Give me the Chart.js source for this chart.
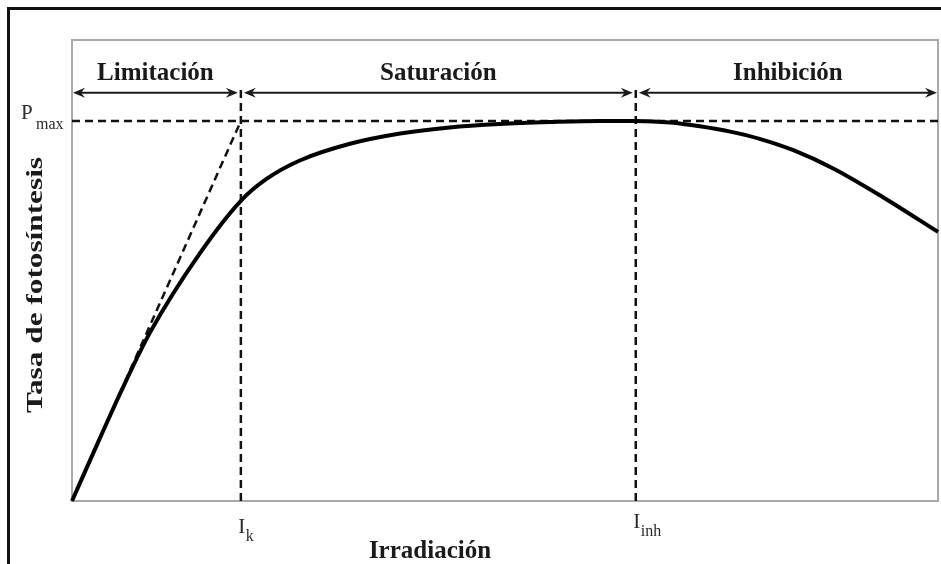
<!DOCTYPE html>
<html>
<head>
<meta charset="utf-8">
<script src="https://cdn.jsdelivr.net/npm/chart.js@4/dist/chart.umd.min.js"></script>
<style>
  html, body { margin: 0; padding: 0; background: #fff; }
  canvas { display: block; }
</style>
</head>
<body>
<canvas id="piCurve" width="941" height="564"></canvas>
<script>
// ── DATOS: curva P-I (fotosíntesis vs irradiación) ─────────
const irradiance     = [0, 3.2, 5.5, 9.0, 14.8, 19.5, 22.5, 26.3, 32.1, 37.9, 43.6, 49.4, 55.2, 61.0, 65.1, 69.1, 72.5, 76.0, 79.4, 83.3, 87.9, 93.6, 100];
const photosynthesis = [0, 16.4, 28.0, 44.3, 65.3, 79.0, 84.8, 89.6, 94.0, 96.7, 98.3, 99.2, 99.7, 100, 100, 99.6, 98.6, 97.2, 95.3, 92.3, 87.5, 80.0, 70.8];

const P_MAX = 100;      // tasa máxima
const I_K   = 19.5;     // irradiación de saturación
const I_INH = 65.1;     // inicio de la inhibición
const X_MAX = 100;
const Y_MAX = 121.3;

const regionNames = ['Limitación', 'Saturación', 'Inhibición'];
const regionEdges = [0, I_K, I_INH, X_MAX];
const ARROW_Y   = 107.4;  // altura de las flechas de zona
const LABEL_Y   = 110.9;  // línea base de los rótulos de zona
const MARKER_TOP = 108.7; // extremo superior de las verticales Ik / Iinh

const pts = (xs, ys) => xs.map((x, i) => ({ x, y: ys[i] }));

const dashed = { borderColor: '#111', borderWidth: 2.5, borderDash: [8, 5], pointRadius: 0, fill: false, tension: 0 };

// ── Plugin: marco, flechas y textos ─────────────────────────
const framePlugin = {
  id: 'frame',
  beforeDraw(chart) {
    const { ctx, chartArea: a } = chart;
    ctx.save();
    ctx.fillStyle = '#fff';
    ctx.fillRect(0, 0, chart.width, chart.height);
    // borde negro exterior (arriba e izquierda)
    ctx.fillStyle = '#111';
    ctx.fillRect(7, 7, chart.width - 7, 3);
    ctx.fillRect(7, 7, 3, chart.height - 7);
    // caja gris del área de trazado
    ctx.strokeStyle = '#a9a9a9';
    ctx.lineWidth = 2;
    ctx.strokeRect(a.left, a.top, a.right - a.left, a.bottom - a.top);
    ctx.restore();
  },
  afterDatasetsDraw(chart) {
    const { ctx, scales: { x, y } } = chart;
    ctx.save();

    // flechas dobles de cada zona
    const ay = y.getPixelForValue(ARROW_Y);
    ctx.strokeStyle = '#1a1a1a';
    ctx.fillStyle = '#1a1a1a';
    ctx.lineWidth = 2;
    const head = (tx, dir) => {
      ctx.beginPath();
      ctx.moveTo(tx, ay);
      ctx.lineTo(tx - dir * 12, ay - 5);
      ctx.lineTo(tx - dir * 8, ay);
      ctx.lineTo(tx - dir * 12, ay + 5);
      ctx.closePath();
      ctx.fill();
    };
    for (let i = 0; i < regionNames.length; i++) {
      const x0 = x.getPixelForValue(regionEdges[i]) + (i === 0 ? 1 : 3);
      const x1 = x.getPixelForValue(regionEdges[i + 1]) - (i === regionNames.length - 1 ? 1 : 3);
      ctx.beginPath();
      ctx.moveTo(x0 + 4, ay);
      ctx.lineTo(x1 - 4, ay);
      ctx.stroke();
      head(x0, -1);
      head(x1, 1);

      ctx.font = 'bold 25px "Liberation Serif", "Times New Roman", serif';
      ctx.textAlign = 'center';
      ctx.textBaseline = 'alphabetic';
      ctx.fillText(regionNames[i], (x0 + x1) / 2, y.getPixelForValue(LABEL_Y));
    }

    // P max
    const py = y.getPixelForValue(P_MAX);
    ctx.fillStyle = '#2a2a2a';
    ctx.textAlign = 'left';
    ctx.font = '21px "Liberation Serif", "Times New Roman", serif';
    ctx.fillText('P', 21, py - 2);
    ctx.font = '16px "Liberation Serif", "Times New Roman", serif';
    ctx.fillText('max', 36, py + 8);

    // marcas del eje x
    const subLabel = (val, sub, base) => {
      const px = x.getPixelForValue(val);
      ctx.font = '21px "Liberation Serif", "Times New Roman", serif';
      ctx.textAlign = 'center';
      ctx.fillText('I', px + 1, base);
      ctx.textAlign = 'left';
      ctx.font = '16px "Liberation Serif", "Times New Roman", serif';
      ctx.fillText(sub, px + 5, base + 8);
    };
    subLabel(I_K, 'k', 533);
    subLabel(I_INH, 'inh', 528);

    // títulos de los ejes
    ctx.fillStyle = '#1a1a1a';
    ctx.font = 'bold 25px "Liberation Serif", "Times New Roman", serif';
    ctx.textAlign = 'center';
    ctx.fillText('Irradiación', 430, 558);

    const title = 'Tasa de fotosíntesis';
    ctx.font = 'bold 23px "Liberation Serif", "Times New Roman", serif';
    const w = ctx.measureText(title).width;
    ctx.translate(42, 285);
    ctx.rotate(-Math.PI / 2);
    ctx.scale(256 / w, 1);
    ctx.fillText(title, 0, 0);

    ctx.restore();
  }
};

new Chart(document.getElementById('piCurve'), {
  type: 'line',
  data: {
    datasets: [
      // curva principal
      { data: pts(irradiance, photosynthesis), borderColor: '#000', borderWidth: 4, pointRadius: 0,
        cubicInterpolationMode: 'monotone', fill: false, clip: false, order: 0 },
      // pendiente inicial hasta Pmax
      { ...dashed, data: [{ x: 0, y: 0 }, { x: I_K, y: P_MAX }], order: 1 },
      // Pmax
      { ...dashed, data: [{ x: 0, y: P_MAX }, { x: X_MAX, y: P_MAX }], order: 1 },
      // Ik e Iinh
      { ...dashed, data: [{ x: I_K, y: 0 }, { x: I_K, y: MARKER_TOP }], order: 1 },
      { ...dashed, data: [{ x: I_INH, y: 0 }, { x: I_INH, y: MARKER_TOP }], order: 1 },
    ]
  },
  options: {
    responsive: false,
    animation: false,
    layout: { padding: { left: 72, top: 40, right: 3, bottom: 63 } },
    scales: {
      x: { type: 'linear', min: 0, max: X_MAX, display: false },
      y: { type: 'linear', min: 0, max: Y_MAX, display: false }
    },
    plugins: { legend: { display: false }, tooltip: { enabled: false } },
    events: []
  },
  plugins: [framePlugin]
});
</script>
</body>
</html>
